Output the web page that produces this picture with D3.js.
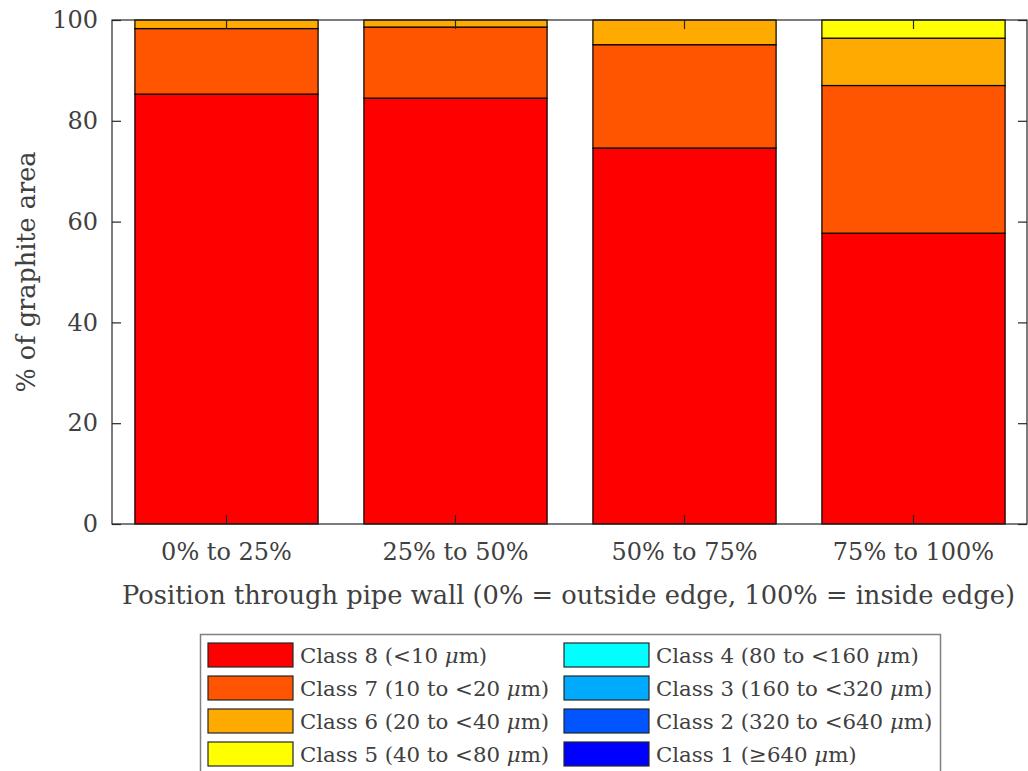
<!DOCTYPE html>
<html lang="en">
<head>
  <meta charset="UTF-8">
  <title>Graphite area by position</title>
  <style>
    body { margin: 0; background: #fff; }
    svg text { font-family: "DejaVu Serif", serif; fill: #404040; }
  </style>
</head>
<body>
<div id="chart"></div>
<script src="https://d3js.org/d3.v7.min.js"></script>
<script>
  // data (% of graphite area)
  const positions = ["0% to 25%", "25% to 50%", "50% to 75%", "75% to 100%"];
  const class8 = [85.3, 84.5, 74.6, 57.7];
  const class7 = [13.0, 14.1, 20.5, 29.3];
  const class6 = [1.7, 1.4, 4.9, 9.4];
  const class5 = [0, 0, 0, 3.6];
  const class4 = [0, 0, 0, 0];
  const class3 = [0, 0, 0, 0];
  const class2 = [0, 0, 0, 0];
  const class1 = [0, 0, 0, 0];
  const classNames = ["Class 8", "Class 7", "Class 6", "Class 5", "Class 4", "Class 3", "Class 2", "Class 1"];
  const classRanges = ["(<10 ", "(10 to <20 ", "(20 to <40 ", "(40 to <80 ", "(80 to <160 ", "(160 to <320 ", "(320 to <640 ", "(\u2265640 "];
  const classColors = ["#ff0000", "#ff5500", "#ffaa00", "#ffff00", "#00ffff", "#00aaff", "#0055ff", "#0000ff"];
  const yTicks = [0, 20, 40, 60, 80, 100];

  const series = [class8, class7, class6, class5, class4, class3, class2, class1];

  const W = 1028, H = 771;
  const pLeft = 112, pRight = 1027, pTop = 20, pBottom = 524;

  const svg = d3.select("#chart").append("svg")
    .attr("width", W).attr("height", H);

  const x = d3.scaleBand().domain(positions).range([pLeft, pLeft + 4 * 229])
    .paddingInner(0.2).paddingOuter(0.1);
  const y = d3.scaleLinear().domain([0, 100]).range([pBottom, pTop]);

  // stack rows
  const rows = positions.map((p, i) => {
    const r = { pos: p };
    series.forEach((s, k) => { r["c" + k] = s[i]; });
    return r;
  });
  const stack = d3.stack().keys(series.map((s, k) => "c" + k))(rows);

  const g = svg.append("g");
  stack.forEach((layer, k) => {
    g.selectAll(null).data(layer.filter(d => d[1] - d[0] > 0)).enter()
      .append("rect")
      .attr("x", d => x(d.data.pos))
      .attr("width", x.bandwidth())
      .attr("y", d => y(d[1]))
      .attr("height", d => y(d[0]) - y(d[1]))
      .attr("fill", classColors[k])
      .attr("stroke", "#000")
      .attr("stroke-width", 1.2);
  });

  // axes (MATLAB-like box with inward ticks)
  const axisColor = "#262626";
  const yl = svg.append("g").attr("transform", `translate(${pLeft},0)`)
    .call(d3.axisLeft(y).tickValues(yTicks).tickSizeInner(-9).tickSizeOuter(0).tickPadding(14));
  const yr = svg.append("g").attr("transform", `translate(${pRight},0)`)
    .call(d3.axisRight(y).tickValues(yTicks).tickSizeInner(-9).tickSizeOuter(0).tickFormat(""));
  const xb = svg.append("g").attr("transform", `translate(0,${pBottom})`)
    .call(d3.axisBottom(x).tickSizeInner(-9).tickSizeOuter(0).tickPadding(19));
  const xt = svg.append("g").attr("transform", `translate(0,${pTop})`)
    .call(d3.axisTop(x).tickSizeInner(-9).tickSizeOuter(0).tickFormat(""));

  [yl, yr, xb, xt].forEach(a => {
    a.select(".domain").remove();
    a.selectAll("line").attr("stroke", axisColor).attr("stroke-width", 1.2);
    a.selectAll("text").attr("font-family", "DejaVu Serif").attr("font-size", 24).attr("fill", "#404040");
  });
  xb.selectAll("text").attr("dy", "0.71em");
  svg.append("rect").attr("x", pLeft).attr("y", pTop)
    .attr("width", pRight - pLeft).attr("height", pBottom - pTop)
    .attr("fill", "none").attr("stroke", axisColor).attr("stroke-width", 1.2);

  svg.append("text")
    .attr("x", (pLeft + pRight) / 2 - 1).attr("y", 604)
    .attr("text-anchor", "middle").attr("font-size", 25.7)
    .text("Position through pipe wall (0% = outside edge, 100% = inside edge)");
  svg.append("text")
    .attr("transform", `translate(35,${(pTop + pBottom) / 2}) rotate(-90)`)
    .attr("text-anchor", "middle").attr("font-size", 25.5)
    .text("% of graphite area");

  // legend
  const lg = svg.append("g");
  lg.append("rect").attr("x", 200.5).attr("y", 634.5).attr("width", 740).attr("height", 150)
    .attr("fill", "#fff").attr("stroke", "#808080").attr("stroke-width", 1.5);
  classNames.forEach((name, k) => {
    const col = Math.floor(k / 4), row = k % 4;
    const sx = 208 + col * 356, sy = 643 + row * 33;
    lg.append("rect").attr("x", sx).attr("y", sy).attr("width", 85).attr("height", 24)
      .attr("fill", classColors[k]).attr("stroke", "#262626").attr("stroke-width", 1.2);
    const t = lg.append("text").attr("x", sx + 92).attr("y", sy + 20).attr("font-size", 21.3).attr("fill", "#262626");
    t.append("tspan").text(name + " " + classRanges[k]);
    t.append("tspan").attr("font-style", "italic").text("\u03bc");
    t.append("tspan").text("m)");
  });
</script>
</body>
</html>
